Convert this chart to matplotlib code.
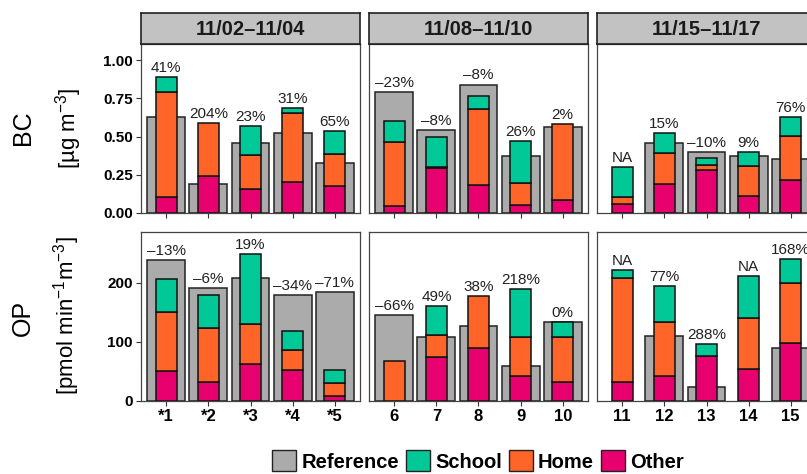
import numpy as np
import matplotlib
matplotlib.use("Agg")
import matplotlib.pyplot as plt
from matplotlib.patches import Patch

plt.rcParams['font.family'] = ['Liberation Sans', 'DejaVu Sans']
plt.rcParams['mathtext.fontset'] = 'custom'
plt.rcParams['mathtext.rm'] = 'Liberation Sans'
plt.rcParams['mathtext.it'] = 'Liberation Sans:italic'

# sampling periods and site labels
periods = ["11/02\u201311/04", "11/08\u201311/10", "11/15\u201311/17"]
sites = ["*1", "*2", "*3", "*4", "*5", "6", "7", "8", "9", "10",
         "11", "12", "13", "14", "15"]

# black carbon (ug m-3)
bc_ref = [0.63, 0.19, 0.46, 0.525, 0.325, 0.79, 0.54, 0.84, 0.375, 0.56,
          np.nan, 0.455, 0.40, 0.375, 0.355]
bc_other = [0.107, 0.244, 0.155, 0.205, 0.179, 0.046, 0.296, 0.181, 0.05, 0.085,
            0.057, 0.19, 0.281, 0.113, 0.216]
bc_home = [0.686, 0.342, 0.224, 0.451, 0.204, 0.416, 0.005, 0.501, 0.144, 0.495,
           0.05, 0.20, 0.033, 0.194, 0.289]
bc_school = [0.094, 0.0, 0.19, 0.032, 0.153, 0.141, 0.194, 0.083, 0.279, 0.0,
             0.191, 0.131, 0.043, 0.094, 0.125]
bc_labels = ["41%", "204%", "23%", "31%", "65%", "\u201323%", "\u20138%", "\u20138%",
             "26%", "2%", "NA", "15%", "\u201310%", "9%", "76%"]

# oxidative potential (pmol min-1 m-3)
op_ref = [239, 191, 208, 180, 184, 146, 108, 127, 60, 133,
          np.nan, 110, 24, np.nan, 90]
op_other = [51, 32, 63, 52, 9, 0, 75, 90, 42, 32, 32, 42, 76, 55, 98]
op_home = [100, 92, 68, 35, 22, 67, 36, 87, 66, 76, 177, 91, 0, 86, 102]
op_school = [56, 56, 118, 31, 21, 0, 50, 0, 82, 25, 13, 61, 20, 71, 40]
op_labels = ["\u201313%", "\u20136%", "19%", "\u201334%", "\u201371%", "\u201366%",
             "49%", "38%", "218%", "0%", "NA", "77%", "288%", "NA", "168%"]

c_ref = "#ABABAB"
c_school = "#00C896"
c_home = "#FF6428"
c_other = "#E8006E"

W, H = 807, 474
fig = plt.figure(figsize=(W / 100, H / 100), dpi=100)


def px_axes(x0, y0, w, h):
    return fig.add_axes([x0 / W, 1 - (y0 + h) / H, w / W, h / H])


col_x = [141, 369, 597]
pw = 219
rows = [(44, bc_ref, bc_other, bc_home, bc_school, bc_labels, 1.105,
         [0, 0.25, 0.5, 0.75, 1.0], ["0.00", "0.25", "0.50", "0.75", "1.00"]),
        (232, op_ref, op_other, op_home, op_school, op_labels, 286,
         [0, 100, 200], ["0", "100", "200"])]

for r, (top, ref, oth, hom, sch, labs, ymax, yt, ytl) in enumerate(rows):
    for c in range(3):
        ax = px_axes(col_x[c], top, pw, 169)
        idx = range(5 * c, 5 * c + 5)
        x = np.arange(1, 6)
        for xi, i in zip(x, idx):
            if not np.isnan(ref[i]):
                ax.bar(xi, ref[i], width=0.9, color=c_ref, edgecolor="#222222",
                       linewidth=1.1, zorder=1)
            bottom = 0
            for val, col in [(oth[i], c_other), (hom[i], c_home), (sch[i], c_school)]:
                if val > 0:
                    ax.bar(xi, val, width=0.5, bottom=bottom, color=col,
                           edgecolor="#111111", linewidth=1.1, zorder=2)
                    bottom += val
            top_val = bottom if np.isnan(ref[i]) else max(bottom, ref[i])
            ax.annotate(labs[i], (xi, top_val), xytext=(0, 1.5),
                        textcoords="offset points", ha="center", va="bottom",
                        fontsize=11, color="#222222", zorder=3)
        ax.set_xlim(0.4, 5.6)
        ax.set_ylim(0, ymax)
        ax.set_xticks(x)
        if r == 1:
            ax.set_xticklabels([sites[i] for i in idx], fontsize=12,
                               fontweight="bold")
        else:
            ax.set_xticklabels([])
        ax.set_yticks(yt)
        if c == 0:
            ax.set_yticklabels(ytl, fontsize=11, fontweight="bold")
        else:
            ax.set_yticklabels([])
            ax.tick_params(axis="y", length=0)
        ax.tick_params(axis="both", length=3.5, width=0.8, color="#333333",
                       pad=2.5)
        if c != 0:
            ax.tick_params(axis="y", length=0)
        for sp in ax.spines.values():
            sp.set_color("#444444")
            sp.set_linewidth(0.9)

        if r == 0:
            sax = px_axes(col_x[c], 13, pw, 31)
            sax.set_facecolor("#C2C2C2")
            sax.set_xticks([])
            sax.set_yticks([])
            for sp in sax.spines.values():
                sp.set_color("#222222")
                sp.set_linewidth(1.2)
            sax.text(0.5, 0.48, periods[c], ha="center", va="center",
                     fontsize=14.5, fontweight="bold", color="#1A1A1A",
                     transform=sax.transAxes)

# row titles
fig.text(23 / W, 1 - 128 / H, "BC", rotation=90, ha="center", va="center",
         fontsize=18)
fig.text(69 / W, 1 - 128 / H, "[\u00b5g m$^{-3}$]", rotation=90, ha="center",
         va="center", fontsize=16)
fig.text(23 / W, 1 - 318 / H, "OP", rotation=90, ha="center", va="center",
         fontsize=18)
fig.text(67 / W, 1 - 316 / H, "[pmol min$^{-1}$m$^{-3}$]", rotation=90,
         ha="center", va="center", fontsize=16)

handles = [Patch(facecolor=c_ref, edgecolor="#222222", label="Reference"),
           Patch(facecolor=c_school, edgecolor="#222222", label="School"),
           Patch(facecolor=c_home, edgecolor="#222222", label="Home"),
           Patch(facecolor=c_other, edgecolor="#222222", label="Other")]
fig.legend(handles=handles, loc="center", bbox_to_anchor=(478 / W, 1 - 461 / H),
           ncol=4, frameon=False, handlelength=1.2, handleheight=1.2,
           handletextpad=0.25, columnspacing=0.35,
           prop={"size": 14.5, "weight": "bold"})

fig.savefig("out.png", dpi=100)
